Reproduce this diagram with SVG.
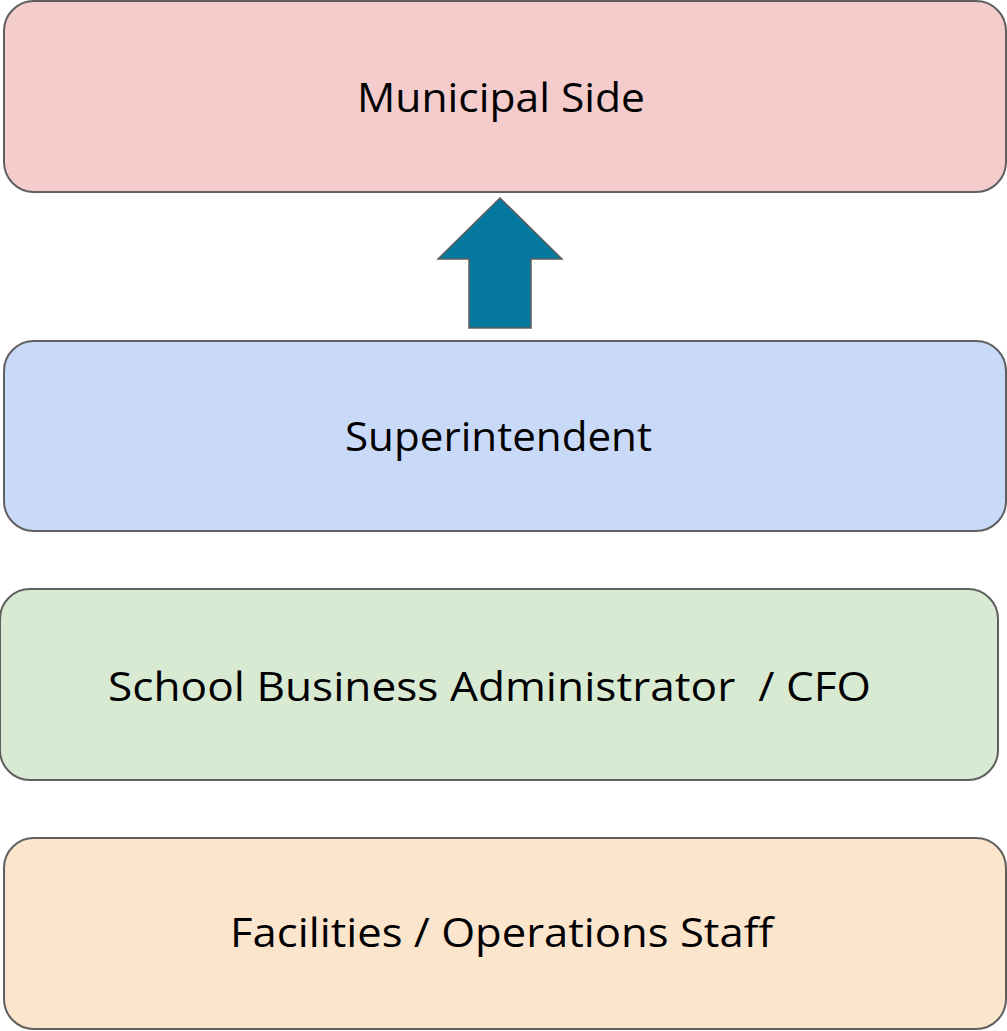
<svg xmlns="http://www.w3.org/2000/svg" width="1007" height="1031" viewBox="0 0 1007 1031">
<style>
.box{stroke:#5f5f5f;stroke-width:2}
.lbl{font-family:"Open Sans","Noto Sans","Liberation Sans",sans-serif;font-size:41px;fill:#000}
</style>
<rect width="1007" height="1031" fill="#ffffff"/>
<g id="municipal">
<rect class="box" x="4" y="1" width="1002" height="191" rx="30" fill="#F4CCCC"/>
<text class="lbl" x="357" y="112" textLength="288" lengthAdjust="spacingAndGlyphs">Municipal Side</text>
</g>
<g id="superintendent">
<rect class="box" x="4" y="341" width="1002" height="190" rx="30" fill="#C9DAF8"/>
<text class="lbl" x="345" y="451" textLength="307" lengthAdjust="spacingAndGlyphs">Superintendent</text>
</g>
<g id="sba">
<rect class="box" x="0" y="589" width="998" height="191" rx="30" fill="#D9EAD3"/>
<text class="lbl" x="108" y="701" textLength="763" lengthAdjust="spacingAndGlyphs" xml:space="preserve">School Business Administrator  / CFO</text>
</g>
<g id="facilities">
<rect class="box" x="4" y="838" width="1002" height="191" rx="30" fill="#FCE5CD"/>
<text class="lbl" x="230" y="947" textLength="543" lengthAdjust="spacingAndGlyphs">Facilities / Operations Staff</text>
</g>
<g id="connectors">
<polygon points="500,198 562,259 531,259 531,328 469,328 469,259 438,259" fill="#04789F" stroke="#5f5f5f" stroke-width="1.5"/>
</g>
</svg>
